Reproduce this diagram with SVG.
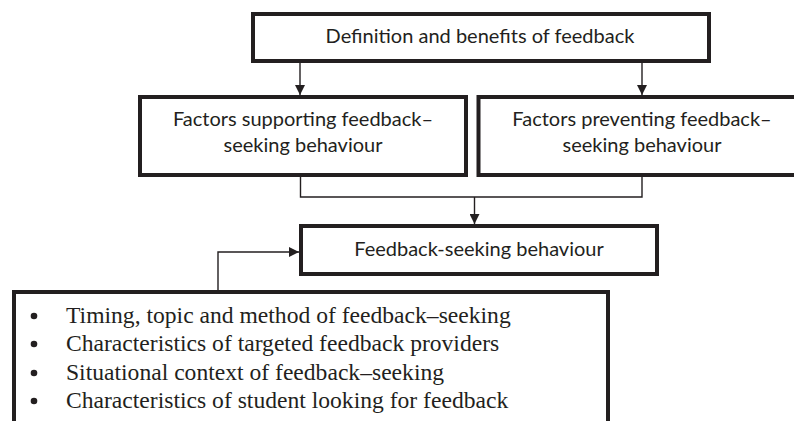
<svg xmlns="http://www.w3.org/2000/svg" width="794" height="421" viewBox="0 0 794 421">
<defs>
<style>
.box{fill:#fff;stroke:#231f20;stroke-width:4}
.lbl{font-family:Lato,"Open Sans","Liberation Sans",sans-serif;font-size:20px;fill:#231f20;text-anchor:middle}
.ser{font-family:"Liberation Serif","Times New Roman",serif;font-size:23.6px;fill:#231f20}
.con{fill:none;stroke:#231f20;stroke-width:1.4}
</style>
<marker id="ah" viewBox="0 0 10 10" refX="10" refY="5" markerWidth="10" markerHeight="10" markerUnits="userSpaceOnUse" orient="auto">
<path d="M0,0 L10,5 L0,10 Z" fill="#231f20"/>
</marker>
</defs>
<rect width="794" height="421" fill="#fff"/>
<g id="connectors">
<line class="con" x1="300" y1="63" x2="300" y2="95" marker-end="url(#ah)"/>
<line class="con" x1="642" y1="63" x2="642" y2="95" marker-end="url(#ah)"/>
<polyline class="con" points="300.5,177 300.5,197 642,197 642,177"/>
<line class="con" x1="474.5" y1="197" x2="474.5" y2="224" marker-end="url(#ah)"/>
<polyline class="con" points="218,290 218,252 299,252" marker-end="url(#ah)"/>
</g>
<g id="node-definition">
<rect class="box" x="253" y="14" width="456" height="47"/>
<text class="lbl" x="480" y="43">Definition and benefits of feedback</text>
</g>
<g id="node-supporting">
<rect class="box" x="140" y="97" width="326" height="78"/>
<text class="lbl" x="303" y="126">Factors supporting feedback–</text>
<text class="lbl" x="303" y="152">seeking behaviour</text>
</g>
<g id="node-preventing">
<rect class="box" x="478.5" y="97" width="328" height="78"/>
<text class="lbl" x="642" y="126">Factors preventing feedback–</text>
<text class="lbl" x="642" y="152">seeking behaviour</text>
</g>
<g id="node-fsb">
<rect class="box" x="301" y="226" width="356" height="48"/>
<text class="lbl" x="479" y="256">Feedback-seeking behaviour</text>
</g>
<g id="node-list">
<rect class="box" x="14" y="292" width="594" height="160"/>
<g fill="#231f20">
<circle cx="34" cy="316" r="3.3"/>
<circle cx="34" cy="344" r="3.3"/>
<circle cx="34" cy="373" r="3.3"/>
<circle cx="34" cy="401" r="3.3"/>
</g>
<text class="ser" x="66" y="323">Timing, topic and method of feedback–seeking</text>
<text class="ser" x="66" y="351">Characteristics of targeted feedback providers</text>
<text class="ser" x="66" y="380">Situational context of feedback–seeking</text>
<text class="ser" x="66" y="408">Characteristics of student looking for feedback</text>
</g>
</svg>
